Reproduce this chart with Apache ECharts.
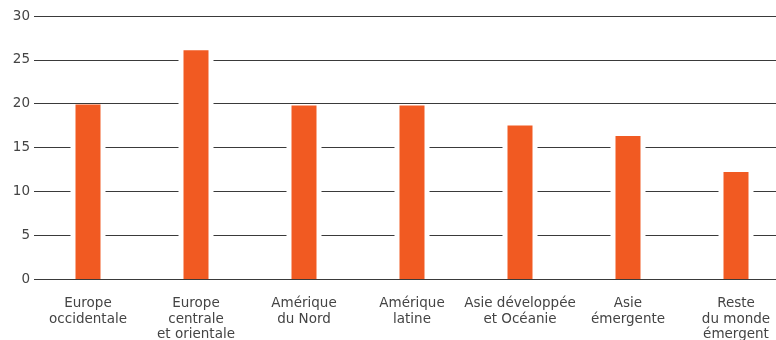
<!DOCTYPE html>
<html><head><meta charset="utf-8">
<script src="https://cdn.jsdelivr.net/npm/echarts@6/dist/echarts.min.js"></script>
<style>html,body{margin:0;padding:0;background:#fff;overflow:hidden}#c{width:790px;height:340px}</style>
</head><body><div id="c"></div>
<script>
const categories = ["Europe\noccidentale","Europe\ncentrale\net orientale","Amérique\ndu Nord","Amérique\nlatine","Asie développée\net Océanie","Asie\némergente","Reste\ndu monde\némergent"];
const values = [19.9, 26.1, 19.8, 19.8, 17.5, 16.3, 12.2];
const yTicks = [0, 5, 10, 15, 20, 25, 30];

const chart = echarts.init(document.getElementById('c'), null, {renderer:'canvas'});
chart.setOption({
  animation:false,
  grid:{left:34, top:16, right:0, height:263, containLabel:false, outerBoundsMode:'none'},
  xAxis:[
    {type:'category', data:categories, axisLine:{show:false}, axisTick:{show:false},
     axisLabel:{interval:0, margin:17, color:'#444', fontFamily:'DejaVu Sans', fontSize:13.5, lineHeight:15.5}},
    {type:'category', data:categories, show:false}
  ],
  yAxis:{type:'value', min:yTicks[0], max:yTicks[yTicks.length-1], interval:5,
    axisLine:{show:false}, axisTick:{show:false},
    axisLabel:{margin:4, color:'#444', fontFamily:'DejaVu Sans', fontSize:13.5},
    splitLine:{lineStyle:{color:'#3a3a3a', width:1}}},
  series:[
    {type:'bar', data:values, xAxisIndex:1, barWidth:35, silent:true, z:2,
     itemStyle:{color:'#fff', borderColor:'#fff', borderWidth:2}},
    {type:'bar', data:values, xAxisIndex:0, barWidth:25, z:3,
     itemStyle:{color:'#f15a22'}}
  ]
});
</script></body></html>
